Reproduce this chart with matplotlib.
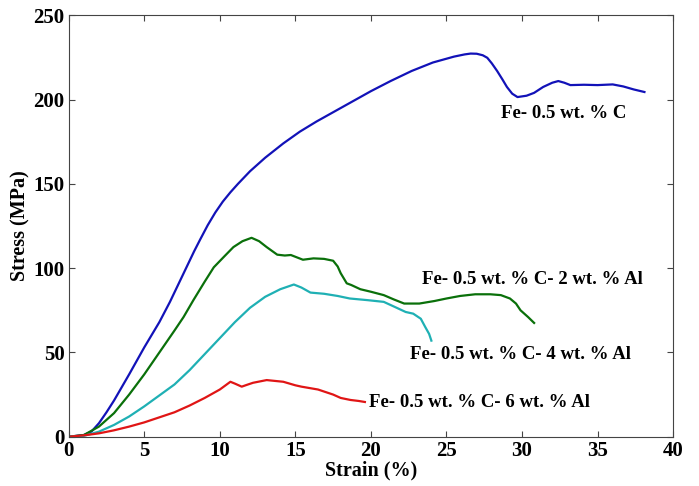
import matplotlib.pyplot as plt

# -------------------------------
# Data
# -------------------------------
strain_c = [0, 1.0, 1.5, 2, 2.5, 3, 4, 5, 6, 6.7, 7.5, 8.3, 8.7, 9.2, 9.7, 10.2, 10.7,
            11.2, 12.0, 13.0, 14.2, 15.3, 16.4, 17.5, 18.6, 20.0, 21.3, 22.7, 24.1, 25.5,
            26.2, 26.6, 27.0, 27.4, 27.7, 28.0, 28.35, 28.7, 29.0, 29.35, 29.7, 30.3, 30.8,
            31.4, 32.0, 32.4, 32.8, 33.2, 34.1, 35.0, 36.0, 36.7, 37.4, 38.1]
stress_c = [0, 1, 3, 8, 14.5, 21.5, 37, 53, 68, 80, 95, 110, 117, 125.5, 133, 139.5,
            145, 150, 157.5, 165.5, 174, 181, 187, 192.5, 198, 205, 211, 217, 222, 225.5,
            226.8, 227.3, 227.2, 226.3, 224.8, 221.5, 217, 212, 207.5, 203.5, 201.5, 202.3,
            204, 207.5, 210, 211, 210, 208.6, 208.8, 208.6, 209, 207.8, 206, 204.5]

strain_2al = [0, 1.0, 2, 3, 4, 5, 6, 7, 7.6, 8.25, 9.0, 9.6, 10.3, 10.9, 11.5, 12.1, 12.6,
              13.1, 13.8, 14.3, 14.7, 15.5, 16.2, 16.9, 17.5, 17.8, 18.0, 18.4, 18.7, 19.3,
              20.0, 20.85, 21.5, 22.2, 23.2, 24.2, 25.0, 25.9, 26.9, 27.9, 28.6, 29.2, 29.6,
              29.9, 30.4, 30.8]
stress_2al = [0, 1, 6, 14, 25, 37, 50, 63, 71, 81, 92, 100.5, 107, 112.5, 116, 118, 116,
              112.5, 108, 107.5, 107.8, 105, 105.8, 105.5, 104.4, 101, 97, 91, 90, 87.5,
              86, 84, 81.5, 79, 79, 80.5, 82, 83.5, 84.5, 84.5, 84, 82, 79, 75, 71, 67.5]

strain_4al = [0, 1, 2, 3, 4, 5, 6, 7, 8, 9, 10, 11, 12, 13, 14, 14.9, 15.4, 16.0, 16.9,
              17.8, 18.6, 19.8, 20.85, 21.7, 22.3, 22.8, 23.3, 23.6, 23.85, 24.0]
stress_4al = [0, 0.5, 3, 7, 12, 18, 24.5, 31, 39.5, 49, 58.5, 68, 76.5, 83, 87.5, 90.3,
              88.5, 85.5, 84.8, 83.5, 82, 81, 80, 76.5, 74, 73, 70, 65, 61, 57]

strain_6al = [0, 1, 2, 3, 4, 5, 6, 7, 8, 9, 10, 10.7, 11.0, 11.45, 11.8, 12.2, 13.1, 14.2,
              15.0, 15.4, 16.5, 17.5, 18.0, 18.65, 19.2, 19.6]
stress_6al = [0, 0.8, 2, 3.8, 6, 8.5, 11.5, 14.5, 18.5, 23, 28, 32.6, 31.5, 29.7, 30.8,
              32, 33.6, 32.6, 30.5, 29.7, 28, 25, 23, 21.8, 21.2, 20.6]

labels = ["Fe- 0.5 wt. % C",
          "Fe- 0.5 wt. % C- 2 wt. % Al",
          "Fe- 0.5 wt. % C- 4 wt. % Al",
          "Fe- 0.5 wt. % C- 6 wt. % Al"]
label_x = [28.6, 23.35, 22.6, 19.9]
label_y = [191.5, 93, 49, 20.3]

colors = ["#1212b8", "#0a700a", "#1fb0b4", "#e01515"]

# -------------------------------
# Plot
# -------------------------------
plt.rcParams['font.family'] = ['Liberation Serif', 'DejaVu Serif']
plt.rcParams['font.weight'] = 'bold'

fig = plt.figure(figsize=(6.99, 4.86), dpi=100)
ax = fig.add_axes([0.0983, 0.1014, 0.8647, 0.8671])

series = [(strain_c, stress_c), (strain_2al, stress_2al),
          (strain_4al, stress_4al), (strain_6al, stress_6al)]
for (xs, ys), col in zip(series, colors):
    ax.plot(xs, ys, color=col, lw=1.6)

for txt, tx, ty in zip(labels, label_x, label_y):
    ax.text(tx, ty, txt, fontsize=13.5, fontweight='bold', va='center', ha='left')

ax.set_xlim(0, 40)
ax.set_ylim(0, 250)
ax.set_xticks(range(0, 41, 5))
ax.set_yticks(range(0, 251, 50))
ax.tick_params(direction='in', top=True, right=True, labeltop=False, labelright=False,
               labelsize=15, length=4, pad=3, color='#444444')
for lab in ax.get_xticklabels() + ax.get_yticklabels():
    lab.set_fontweight('bold')
for sp in ax.spines.values():
    sp.set_color('#444444')

ax.set_xlabel("Strain (%)", fontsize=14.5, fontweight='bold', labelpad=0)
ax.set_ylabel("Stress (MPa)", fontsize=14.5, fontweight='bold', labelpad=2)

fig.savefig("out.png", dpi=100)
